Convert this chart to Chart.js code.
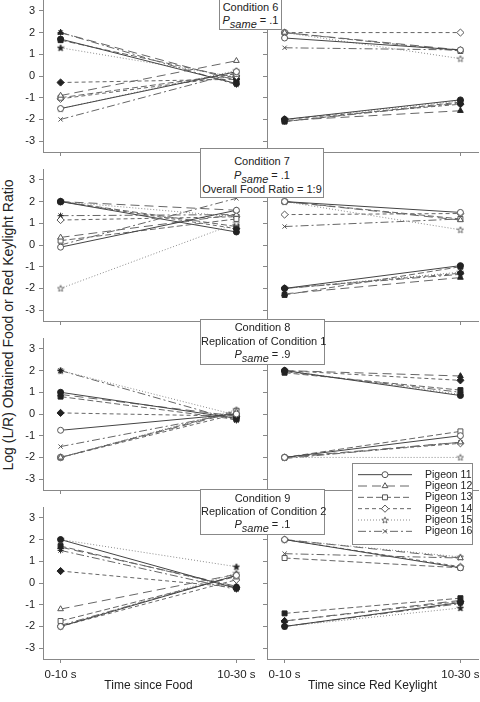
<!DOCTYPE html>
<html>
<head>
<meta charset="utf-8">
<script src="https://cdn.jsdelivr.net/npm/chart.js@4.4.1/dist/chart.umd.min.js"></script>
<style>
  body { margin: 0; background: #fff; }
  #wrap { position: relative; width: 480px; height: 702px; overflow: hidden;
          font-family: 'Liberation Sans', Arial, sans-serif; color: #222; }
  #wrap canvas { position: absolute; }
  .cond { position: absolute; background: #fff; border: 1px solid #888; box-sizing: border-box;
          font-size: 11px; line-height: 13px; text-align: center; z-index: 2; white-space: nowrap; }
  .cond .sub { position: relative; top: 4px; font-style: italic; }
  #ytitle { position: absolute; left: 8px; top: 325px; white-space: nowrap; font-size: 14px;
            transform: translate(-50%, -50%) rotate(-90deg); }
  #legendBox { position: absolute; left: 352px; top: 463px; width: 121px; height: 82px;
               border: 1px solid #888; background: #fff; box-sizing: border-box; z-index: 2; }
  #legendBox canvas { left: 0; top: 0; }
</style>
</head>
<body>
<div id="wrap">
  <div id="ytitle">Log (L/R) Obtained Food or Red Keylight Ratio</div>
  <div class="cond" style="left:219px;top:-1px;width:63px;height:31px;padding-top:1px">
    Condition 6<br><i>P</i><span class="sub">same</span> = .1
  </div>
  <div class="cond" style="left:200px;top:148px;width:124px;height:50px;padding-top:5px;line-height:14px">
    Condition 7<br><i>P</i><span class="sub">same</span> = .1<br>Overall Food Ratio = 1:9
  </div>
  <div class="cond" style="left:200px;top:319px;width:125px;height:46px;padding-top:1px;line-height:13.5px">
    Condition 8<br>Replication of Condition 1<br><i>P</i><span class="sub">same</span> = .9
  </div>
  <div class="cond" style="left:200px;top:489px;width:125px;height:46px;padding-top:2px">
    Condition 9<br>Replication of Condition 2<br><i>P</i><span class="sub">same</span> = .1
  </div>
  <div id="legendBox"><canvas id="legend" width="119" height="80"></canvas></div>
</div>
<script>
// ---- data ----
const timeLabels = ['0-10 s', '10-30 s'];
const yTicks = [-3, -2, -1, 0, 1, 2, 3];
const pigeons = ['Pigeon 11', 'Pigeon 12', 'Pigeon 13', 'Pigeon 14', 'Pigeon 15', 'Pigeon 16'];

// one pair per pigeon: [0-10 s, 10-30 s]
const c6FoodOpen   = [[-1.5, 0.2], [-0.9, 0.7], [-1.0, 0.1], [-1.05, 0.0], [-1.5, 0.25], [-2.0, 0.15]];
const c6FoodFilled = [[1.7, -0.35], [2.0, -0.2], [1.65, -0.1], [-0.3, -0.15], [1.3, -0.05], [2.0, -0.4]];
const c6KeyOpen    = [[1.75, 1.2], [2.0, 1.2], [2.0, 1.15], [2.0, 2.0], [2.0, 0.8], [1.3, 1.2]];
const c6KeyFilled  = [[-2.0, -1.1], [-2.05, -1.6], [-2.1, -1.2], [-2.0, -1.3], [-2.0, -1.15], [-2.1, -1.25]];

const c7FoodOpen   = [[-0.1, 1.6], [0.35, 1.4], [0.2, 1.2], [1.15, 1.3], [-2.0, 1.0], [0.0, 2.15]];
const c7FoodFilled = [[2.0, 0.6], [2.0, 1.6], [2.0, 0.85], [2.0, 0.75], [2.0, 1.3], [1.35, 1.4]];
const c7KeyOpen    = [[2.0, 1.5], [2.0, 1.15], [2.0, 1.2], [1.4, 1.45], [2.0, 0.7], [0.85, 1.2]];
const c7KeyFilled  = [[-2.0, -0.95], [-2.25, -1.5], [-2.3, -1.0], [-2.0, -1.3], [-2.0, -1.25], [-2.0, -1.35]];

const c8FoodOpen   = [[-0.75, 0.0], [-2.0, 0.1], [-2.0, 0.15], [-2.0, 0.0], [-2.0, 0.2], [-1.5, 0.05]];
const c8FoodFilled = [[1.0, -0.2], [0.9, -0.1], [0.8, -0.25], [0.05, -0.1], [2.0, -0.05], [2.0, -0.3]];
const c8KeyOpen    = [[-2.0, -1.0], [-2.0, -1.3], [-2.0, -0.8], [-2.0, -1.35], [-2.0, -2.0], [-2.05, -1.3]];
const c8KeyFilled  = [[2.0, 0.85], [2.0, 1.75], [1.9, 1.1], [2.0, 1.55], [2.0, 0.9], [1.95, 1.0]];

const c9FoodOpen   = [[-2.0, 0.35], [-1.2, 0.4], [-1.75, 0.3], [-2.0, 0.15], [-2.0, 0.45], [-1.95, 0.35]];
const c9FoodFilled = [[2.0, -0.25], [1.65, -0.15], [1.7, -0.2], [0.55, -0.2], [2.0, 0.75], [1.5, -0.3]];
const c9KeyOpen    = [[2.0, 0.7], [2.0, 1.15], [1.15, 0.7], [2.0, 0.75], [2.0, 1.2], [1.35, 1.15]];
const c9KeyFilled  = [[-2.0, -0.9], [-1.75, -0.8], [-1.4, -0.7], [-1.75, -0.85], [-2.0, -1.15], [-2.0, -0.95]];

// ---- styles ----
const axisColor = '#888';
const lineColors = ['#444', '#666', '#666', '#666', '#8a8a8a', '#666'];
const dashes = [[], [9, 5], [6, 3], [4, 3], [1, 2], [8, 3, 2, 3]];
const radii = [3, 3.3, 3.5, 3.6, 3.5, 3];

function starImage(filled) {
  const c = document.createElement('canvas');
  c.width = 8; c.height = 8;
  const g = c.getContext('2d');
  g.beginPath();
  for (let i = 0; i < 10; i++) {
    const r = i % 2 ? 1.4 : 3.4;
    const a = -Math.PI / 2 + i * Math.PI / 5;
    g.lineTo(4 + r * Math.cos(a), 4.3 + r * Math.sin(a));
  }
  g.closePath();
  g.fillStyle = filled ? '#222' : '#fff';
  g.fill();
  g.lineWidth = 0.8;
  g.strokeStyle = filled ? '#222' : '#555';
  g.stroke();
  return c;
}
const openMarks = ['circle', 'triangle', 'rect', 'rectRot', starImage(false), 'crossRot'];
const filledMarks = ['circle', 'triangle', 'rect', 'rectRot', starImage(true), 'star'];

Chart.defaults.font.family = "'Liberation Sans', Arial, sans-serif";
Chart.defaults.color = '#222';

function series(pairs, filled) {
  return pairs.map((pair, i) => ({
    label: pigeons[i],
    data: pair.map((v, k) => ({ x: k, y: v })),
    borderColor: lineColors[i],
    borderWidth: 1,
    borderDash: dashes[i],
    fill: false,
    tension: 0,
    pointStyle: filled ? filledMarks[i] : openMarks[i],
    pointRadius: radii[i],
    pointBorderWidth: 1,
    pointBackgroundColor: filled ? '#222' : '#fff',
    pointBorderColor: filled ? '#222' : '#555'
  }));
}

const panels = [
  { row: 0, col: 0, open: c6FoodOpen, filled: c6FoodFilled },
  { row: 0, col: 1, open: c6KeyOpen, filled: c6KeyFilled },
  { row: 1, col: 0, open: c7FoodOpen, filled: c7FoodFilled },
  { row: 1, col: 1, open: c7KeyOpen, filled: c7KeyFilled },
  { row: 2, col: 0, open: c8FoodOpen, filled: c8FoodFilled },
  { row: 2, col: 1, open: c8KeyOpen, filled: c8KeyFilled },
  { row: 3, col: 0, open: c9FoodOpen, filled: c9FoodFilled },
  { row: 3, col: 1, open: c9KeyOpen, filled: c9KeyFilled }
];

const wrap = document.getElementById('wrap');
const rowTops = [0, 169, 338, 507];
const plotH = 152;

panels.forEach(p => {
  const left = p.col === 0;
  const bottom = p.row === 3;
  const top = rowTops[p.row];
  const cx = left ? 0 : 262;
  const cw = left ? 256 : 218;
  const ch = bottom ? 702 - top : plotH + 8;

  const canvas = document.createElement('canvas');
  canvas.width = cw; canvas.height = ch;
  canvas.style.left = cx + 'px';
  canvas.style.top = top + 'px';
  wrap.appendChild(canvas);

  new Chart(canvas, {
    type: 'line',
    data: { datasets: series(p.open, false).concat(series(p.filled, true)) },
    options: {
      responsive: false,
      animation: false,
      events: [],
      clip: false,
      layout: { autoPadding: false, padding: { top: 0, right: 2, bottom: 0, left: 0 } },
      plugins: { legend: { display: false }, tooltip: { enabled: false } },
      scales: {
        x: {
          type: 'linear', min: -0.1, max: 1.1,
          afterBuildTicks: s => { s.ticks = timeLabels.map((_, i) => ({ value: i })); },
          afterFit: s => { s.height = ch - plotH; s.paddingLeft = 0; s.paddingRight = 0; },
          grid: { drawOnChartArea: false, tickLength: 4, color: axisColor },
          border: { color: axisColor },
          ticks: { display: bottom, padding: 5, font: { size: 11.5 }, maxRotation: 0, autoSkip: false,
                   callback: v => timeLabels[v] },
          title: { display: bottom, text: left ? 'Time since Food' : 'Time since Red Keylight',
                   font: { size: 12 }, padding: { top: 0, bottom: 9 } }
        },
        y: {
          type: 'linear', min: -3.5, max: 3.5,
          afterBuildTicks: s => { s.ticks = yTicks.map(v => ({ value: v })); },
          afterFit: s => { s.width = left ? 43 : 5; s.paddingTop = 0; s.paddingBottom = 0; },
          grid: { drawOnChartArea: false, tickLength: 4, color: axisColor },
          border: { color: axisColor },
          ticks: { display: left, padding: 4, font: { size: 11 }, callback: v => String(v) }
        }
      }
    }
  });
});

// legend: one short line per pigeon with its marker in the middle
new Chart(document.getElementById('legend'), {
  type: 'line',
  data: {
    datasets: pigeons.map((name, i) => ({
      label: name,
      data: [0, 0.5, 1].map(x => ({ x: x, y: i })),
      borderColor: lineColors[i],
      borderWidth: 1,
      borderDash: dashes[i],
      pointStyle: openMarks[i],
      pointRadius: [0, radii[i], 0],
      pointBorderWidth: 1,
      pointBackgroundColor: '#fff',
      pointBorderColor: '#555'
    }))
  },
  options: {
    responsive: false,
    animation: false,
    events: [],
    clip: false,
    layout: { autoPadding: false, padding: { top: 5, right: 0, bottom: 7, left: 5 } },
    plugins: { legend: { display: false }, tooltip: { enabled: false } },
    scales: {
      x: { type: 'linear', min: 0, max: 1, display: false },
      y: {
        type: 'linear', position: 'right', reverse: true, min: -0.5, max: 5.5,
        afterBuildTicks: s => { s.ticks = pigeons.map((_, i) => ({ value: i })); },
        afterFit: s => { s.width = 60; s.paddingTop = 0; s.paddingBottom = 0; },
        grid: { display: false, drawTicks: false },
        border: { display: false },
        ticks: { padding: 13, autoSkip: false, font: { size: 10.5 }, callback: v => pigeons[v] }
      }
    }
  }
});
</script>
</body>
</html>
